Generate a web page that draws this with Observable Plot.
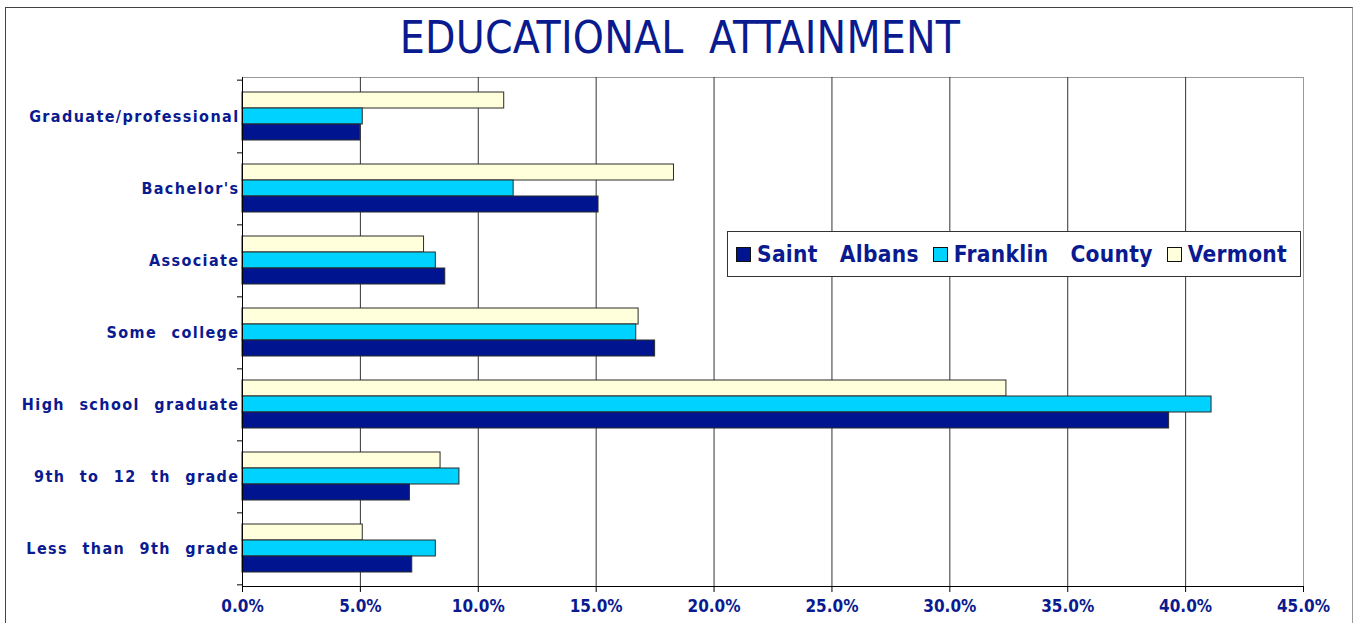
<!DOCTYPE html>
<html><head><meta charset="utf-8">
<script src="https://cdn.jsdelivr.net/npm/d3@7"></script>
<script src="https://cdn.jsdelivr.net/npm/@observablehq/plot@0.6"></script>
<style>
html,body{margin:0;padding:0;background:#fff;width:1353px;height:623px;overflow:hidden;}
#frame{position:absolute;left:5px;top:7px;width:1348px;height:700px;border:1px solid #444;border-right-color:#999;box-sizing:border-box;}
#title{position:absolute;left:0;top:12px;width:1360px;text-align:center;font-family:"DejaVu Sans Condensed","DejaVu Sans";font-stretch:condensed;font-size:44px;letter-spacing:0.2px;color:#0a1a8f;line-height:52px;white-space:pre;}
#chart{position:absolute;left:0;top:70px;}
#legend{position:absolute;left:727px;top:231px;width:574px;height:46px;box-sizing:border-box;border:1px solid #333;background:#fff;display:flex;align-items:center;padding-left:8px;font-family:"DejaVu Sans Condensed","DejaVu Sans";font-stretch:condensed;font-weight:bold;font-size:22.5px;letter-spacing:0.3px;color:#0a1a8f;white-space:pre;}
#legend .item{display:flex;align-items:center;margin-right:14px;}
#legend .sw{width:15px;height:15px;box-sizing:border-box;border:1px solid #111;margin-right:6px;}
svg text{white-space:pre;}
svg [aria-label="x-axis tick label"], svg [aria-label="x-axis tick label"] text{fill:#0a1a8f;font-weight:bold;font-size:17px;font-family:"DejaVu Sans Condensed","DejaVu Sans";font-stretch:condensed;}
svg [aria-label="y-axis tick label"], svg [aria-label="y-axis tick label"] text{fill:#0a1a8f;font-weight:bold;font-size:16px;font-family:"DejaVu Sans Condensed","DejaVu Sans";font-stretch:condensed;letter-spacing:1.4px;word-spacing:8px;}
</style>
</head><body>
<div id="frame"></div>
<div id="title">EDUCATIONAL  ATTAINMENT</div>
<div id="chart"></div>
<div id="legend"></div>
<script>
const categories = ["Graduate/professional","Bachelor's","Associate","Some college","High school graduate","9th to 12 th grade","Less than 9th grade"];
const seriesNames = ["Saint Albans","Franklin County","Vermont"];
const saintAlbans    = [5.0, 15.1, 8.6, 17.5, 39.3, 7.1, 7.2];
const franklinCounty = [5.1, 11.5, 8.2, 16.7, 41.1, 9.2, 8.2];
const vermont        = [11.1, 18.3, 7.7, 16.8, 32.4, 8.4, 5.1];
const xTicks = [0,5,10,15,20,25,30,35,40,45];
const colors = ["#001490","#00d2ff","#ffffdc"];

const W = 1353, H = 553;
const mTop = 7, mBottom = 37, mLeft = 242, mRight = 50;
const barH = 16;
const step = (H - mTop - mBottom) / categories.length;
const pi = 1 - barH / step;

const rows = categories.map((c, i) => ({category: c, sa: saintAlbans[i], fc: franklinCounty[i], vt: vermont[i]}));
const barStyle = {stroke: "#2a2a2a", strokeWidth: 1};

const chart = Plot.plot({
  width: W, height: H,
  marginTop: mTop, marginBottom: mBottom, marginLeft: mLeft, marginRight: mRight,
  style: {fontFamily: "'DejaVu Sans', Verdana, sans-serif", background: "transparent", overflow: "visible"},
  x: {domain: [0, 45]},
  y: {domain: categories, paddingInner: pi, paddingOuter: pi / 2},
  marks: [
    Plot.frame({stroke: "#999"}),
    Plot.ruleX(xTicks.slice(1, -1), {stroke: "#333", strokeOpacity: 1}),
    Plot.barX(rows, {y: "category", x: "vt", fill: colors[2], dy: -barH, ...barStyle}),
    Plot.barX(rows, {y: "category", x: "fc", fill: colors[1], dy: 0, ...barStyle}),
    Plot.barX(rows, {y: "category", x: "sa", fill: colors[0], dy: barH, ...barStyle}),
    Plot.ruleX([0], {stroke: "#000"}),
    Plot.frame({anchor: "bottom", stroke: "#000"}),
    Plot.axisX({ticks: xTicks, tickSize: 6, tickPadding: 7, tickFormat: d => d.toFixed(1) + "%", label: null, stroke: "#000"}),
    Plot.axisY({tickSize: 0, tickPadding: 3, label: null}),
    Plot.axisY({ticks: categories, tickSize: 5, text: null, dy: step / 2, label: null, stroke: "#000"}),
    Plot.axisY({ticks: [categories[0]], tickSize: 5, text: null, dy: -step / 2, label: null, stroke: "#000"})
  ]
});
document.getElementById("chart").appendChild(chart);

const legend = document.getElementById("legend");
seriesNames.forEach((name, i) => {
  const item = document.createElement("div");
  item.className = "item";
  const sw = document.createElement("div");
  sw.className = "sw";
  sw.style.background = colors[i];
  const t = document.createElement("span");
  t.textContent = name.replace(" ", "   ");
  item.appendChild(sw); item.appendChild(t);
  legend.appendChild(item);
});
</script>
</body></html>
